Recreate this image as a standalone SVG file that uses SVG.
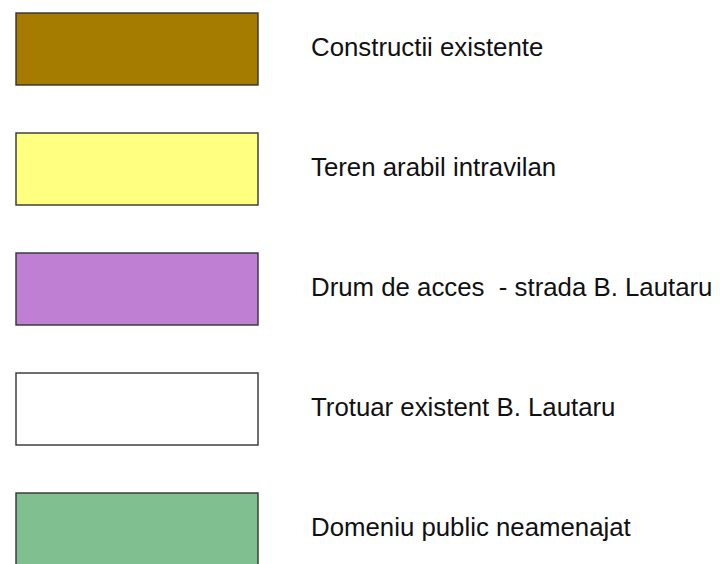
<svg xmlns="http://www.w3.org/2000/svg" width="720" height="564" viewBox="0 0 720 564">
<style>
.sw{stroke:#333333;stroke-width:1.4}
.lb{font-family:"Liberation Sans",Arial,sans-serif;font-size:25.8px;fill:#111111}
</style>
<rect width="720" height="564" fill="#ffffff"/>
<g id="constructii">
<rect class="sw" x="16" y="13" width="242" height="72" fill="#A67C00"/>
<text class="lb" x="311" y="56">Constructii existente</text>
</g>
<g id="teren">
<rect class="sw" x="16" y="133" width="242" height="72" fill="#FFFF80"/>
<text class="lb" x="311" y="176">Teren arabil intravilan</text>
</g>
<g id="drum">
<rect class="sw" x="16" y="253" width="242" height="72" fill="#BF80D4"/>
<text class="lb" x="311" y="296" xml:space="preserve">Drum de acces  - strada B. Lautaru</text>
</g>
<g id="trotuar">
<rect class="sw" x="16" y="373" width="242" height="72" fill="#FFFFFF"/>
<text class="lb" x="311" y="416">Trotuar existent B. Lautaru</text>
</g>
<g id="domeniu">
<rect class="sw" x="16" y="493" width="242" height="72" fill="#80BF8F"/>
<text class="lb" x="311" y="536">Domeniu public neamenajat</text>
</g>
<g id="connectors"/>
</svg>
